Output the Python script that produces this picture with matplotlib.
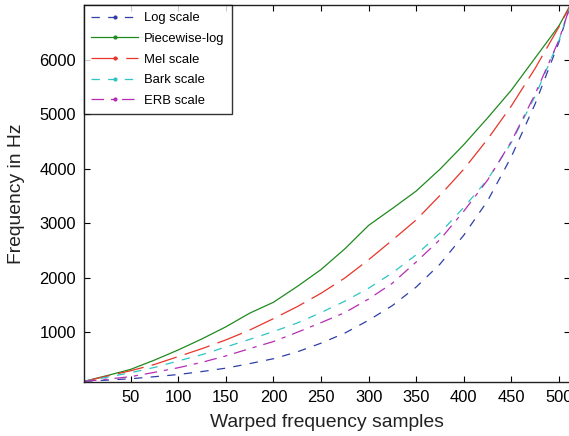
import matplotlib
matplotlib.use("Agg")
import matplotlib.pyplot as plt
from matplotlib.lines import Line2D

plt.rcParams['font.family'] = ['Liberation Sans', 'DejaVu Sans']
plt.rcParams['lines.scale_dashes'] = False

samples = [1, 25, 50, 75, 100, 125, 150, 175, 200, 225, 250, 275, 300, 325,
           350, 375, 400, 425, 450, 475, 500, 512]

log_scale = [100, 122, 148, 185, 225, 280, 342, 425, 515, 640, 800, 985, 1220,
             1490, 1830, 2250, 2780, 3410, 4220, 5190, 6320, 7000]
piecewise_log = [100, 205, 320, 490, 676, 880, 1100, 1350, 1550, 1840, 2150,
                 2530, 2960, 3270, 3590, 3990, 4440, 4930, 5440, 6030, 6620, 7000]
mel_scale = [100, 195, 295, 410, 555, 700, 860, 1040, 1250, 1470, 1715, 1995,
             2330, 2690, 3060, 3510, 3990, 4540, 5150, 5840, 6600, 7000]
bark_scale = [100, 175, 259, 355, 475, 590, 730, 870, 1012, 1170, 1361, 1570,
              1808, 2090, 2420, 2820, 3290, 3800, 4480, 5330, 6350, 7000]
erb_scale = [100, 140, 186, 265, 350, 450, 566, 700, 830, 1000, 1177, 1360,
             1610, 1900, 2290, 2700, 3220, 3790, 4500, 5370, 6360, 7000]

labels = ["Log scale", "Piecewise-log", "Mel scale", "Bark scale", "ERB scale"]
xticks = [50, 100, 150, 200, 250, 300, 350, 400, 450, 500]
yticks = [1000, 2000, 3000, 4000, 5000, 6000]

series = [log_scale, piecewise_log, mel_scale, bark_scale, erb_scale]
colors = ['#2e3fa6', '#1f8a1f', '#e8352a', '#2ec4c4', '#b52db5']
styles = [(0, (6, 6)), '-', (0, (19, 6)), (0, (6, 6)), (0, (9, 5, 3, 5))]

fig = plt.figure(figsize=(5.69, 4.36), dpi=100)
ax = fig.add_axes([84.1 / 569, 1 - 382 / 436, (570.4 - 84.1) / 569, (382 - 5) / 436])

for ys, c, ls in zip(series, colors, styles):
    ax.plot(samples, ys, color=c, linestyle=ls, linewidth=0.9)

handles = [Line2D([], [], color=c, linestyle=ls, linewidth=0.9, marker='.',
                  markersize=4) for c, ls in zip(colors, styles)]
leg = ax.legend(handles, labels, loc='upper left', fontsize=9.4, frameon=True,
                fancybox=False, handlelength=3.6, handletextpad=0.45,
                labelspacing=0.65, borderpad=0.55, borderaxespad=0.0,
                numpoints=1, markerscale=1.0)
leg.get_frame().set_edgecolor('black')
leg.get_frame().set_linewidth(1.0)

ax.set_xlim(1, 512)
ax.set_ylim(88, 7000)
ax.set_xticks(xticks)
ax.set_yticks(yticks)
ax.tick_params(direction='in', length=4, width=0.8, top=True, right=True,
               labelsize=11.9, colors='black', pad=6)
for s in ax.spines.values():
    s.set_linewidth(1.0)
    s.set_color('#222222')
ax.set_xlabel("Warped frequency samples", fontsize=13.9, labelpad=6, color='#222222')
ax.set_ylabel("Frequency in Hz", fontsize=13.9, labelpad=10, color='#222222')

fig.savefig("out.png", dpi=100)
